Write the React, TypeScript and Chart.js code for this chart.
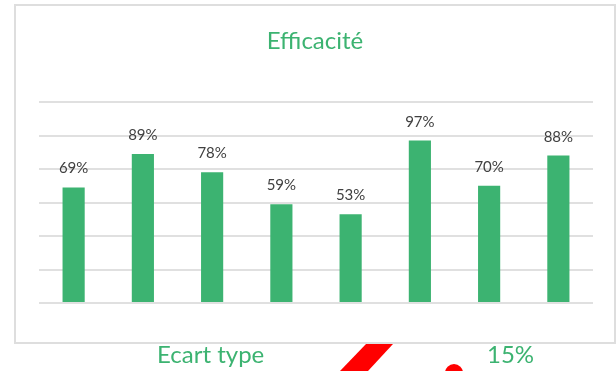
import React, { useEffect, useRef } from "react";
import { Chart, registerables } from "chart.js";

Chart.register(...registerables);

const categories = ["1", "2", "3", "4", "5", "6", "7", "8"];
const efficacite = [69, 89, 78, 59, 53, 97, 70, 88];
const yTicks = [0, 20, 40, 60, 80, 100, 120];
const titleText = "Efficacité";
const footerLabel = "Ecart type";
const footerValue = "15%";

const GREEN = "#3cb371";
const FONT = "Lato, 'Liberation Sans', sans-serif";

const valueLabels = {
  id: "valueLabels",
  afterDatasetsDraw(chart: any) {
    const ctx = chart.ctx;
    const meta = chart.getDatasetMeta(0);
    ctx.save();
    ctx.font = `15px ${FONT}`;
    ctx.fillStyle = "#404040";
    ctx.textAlign = "center";
    ctx.textBaseline = "alphabetic";
    meta.data.forEach((bar: any, i: number) => {
      ctx.fillText(`${efficacite[i]}%`, bar.x, bar.y - 14);
    });
    ctx.restore();
  },
};

export default function App() {
  const ref = useRef<HTMLCanvasElement | null>(null);

  useEffect(() => {
    if (!ref.current) return;
    const chart = new Chart(ref.current, {
      type: "bar",
      data: {
        labels: categories,
        datasets: [
          {
            data: efficacite,
            backgroundColor: GREEN,
            borderWidth: 0,
            barPercentage: 0.32,
            categoryPercentage: 1,
          },
        ],
      },
      options: {
        animation: false,
        responsive: false,
        maintainAspectRatio: false,
        layout: { padding: { left: 39, right: 23, top: 102, bottom: 68 } },
        scales: {
          x: { display: false },
          y: {
            min: yTicks[0],
            max: yTicks[yTicks.length - 1],
            afterFit: (scale: any) => {
              scale.width = 0;
            },
            afterBuildTicks: (scale: any) => {
              scale.ticks = yTicks.map((v) => ({ value: v }));
            },
            ticks: { display: false, stepSize: 20 },
            grid: { color: "#e0e0e0", lineWidth: 2, drawTicks: false },
            border: { display: false },
          },
        },
        plugins: {
          legend: { display: false },
          tooltip: { enabled: false },
          title: { display: false },
        },
      },
      plugins: [valueLabels],
    });
    return () => chart.destroy();
  }, []);

  return (
    <div
      style={{
        position: "fixed",
        left: 0,
        top: 0,
        width: 616,
        height: 371,
        background: "#fff",
        overflow: "hidden",
        fontFamily: FONT,
      }}
    >
      <svg
        width={616}
        height={371}
        style={{ position: "absolute", left: 0, top: 0 }}
      >
        <polygon points="366,344 393,344 368,371 340,371" fill="#ff0000" />
        <circle cx={454} cy={373} r={9} fill="#ff0000" />
      </svg>
      <div
        style={{
          position: "absolute",
          left: 14,
          top: 4,
          width: 598,
          height: 336,
          border: "2px solid #dedede",
          background: "#fff",
        }}
      />
      <canvas
        ref={ref}
        width={616}
        height={371}
        style={{ position: "absolute", left: 0, top: 0, width: 616, height: 371 }}
      />
      <div
        style={{
          position: "absolute",
          left: 15,
          width: 600,
          top: 28,
          textAlign: "center",
          fontSize: 24,
          lineHeight: "24px",
          color: GREEN,
          whiteSpace: "nowrap",
        }}
      >
        {titleText}
      </div>
      <div
        style={{
          position: "absolute",
          left: 157,
          top: 342,
          fontSize: 24,
          lineHeight: "24px",
          color: GREEN,
          whiteSpace: "nowrap",
        }}
      >
        {footerLabel}
      </div>
      <div
        style={{
          position: "absolute",
          left: 487,
          top: 342,
          fontSize: 24,
          lineHeight: "24px",
          color: GREEN,
          whiteSpace: "nowrap",
        }}
      >
        {footerValue}
      </div>
    </div>
  );
}
